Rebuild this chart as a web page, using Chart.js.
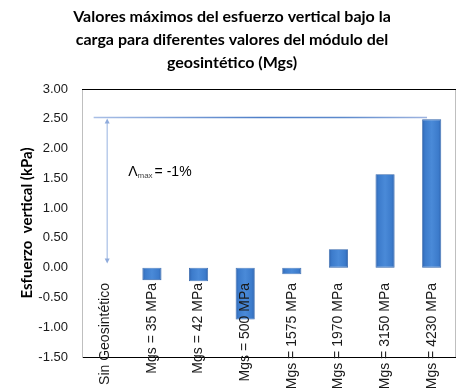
<!DOCTYPE html>
<html>
<head>
<meta charset="utf-8">
<script src="https://cdn.jsdelivr.net/npm/chart.js@4/dist/chart.umd.min.js"></script>
<style>
  html, body { margin: 0; padding: 0; background: #fff; }
  #wrap { width: 459px; height: 392px; }
</style>
</head>
<body>
<div id="wrap"><canvas id="c"></canvas></div>
<script>
// Categories: geosynthetic modulus cases
const categories = [
  'Sin Geosintético', 'Mgs = 35 MPa', 'Mgs = 42 MPa', 'Mgs = 500 MPa',
  'Mgs = 1575 MPa', 'Mgs = 1970 MPa', 'Mgs = 3150 MPa', 'Mgs = 4230 MPa'
];
// Maximum vertical stress under the load (kPa)
const stressValues = [0.00, -0.21, -0.23, -0.87, -0.11, 0.31, 1.57, 2.49];
// Y axis range and step
const yTicks = { min: -1.5, max: 3.0, step: 0.5 };
// Reference level and the arrow span (kPa), category positions for the guide
const refLevel = 2.52;
const refLineFrom = -0.25;
const refLineTo = 6.9;
const arrowAt = 0.04;
const arrowBottom = 0.07;
// Annotation
const noteValue = 1.63;
const noteAt = 0.49;

const BAR_FRACTION = 0.41;

// Horizontal bevel-like gradient for each bar
function barFill(ctx) {
  const chart = ctx.chart;
  const xs = chart.scales && chart.scales.x;
  const flat = '#3c7bcb';
  if (!xs || ctx.dataIndex === undefined) return flat;
  const cx = xs.getPixelForValue(ctx.dataIndex);
  const w = (xs.width / categories.length) * BAR_FRACTION;
  if (!Number.isFinite(cx) || !Number.isFinite(w) || w <= 0) return flat;
  const g = chart.ctx.createLinearGradient(cx - w / 2, 0, cx + w / 2, 0);
  g.addColorStop(0, '#2e64b0');
  g.addColorStop(0.15, '#3c7bcb');
  g.addColorStop(0.5, '#4a8ad8');
  g.addColorStop(0.85, '#3c7bcb');
  g.addColorStop(1, '#2e64b0');
  return g;
}

// Plot frame, reference line, double arrow and note
const overlay = {
  id: 'overlay',
  beforeDatasetsDraw(chart) {
    const { ctx, chartArea: a } = chart;
    ctx.save();
    ctx.lineWidth = 1;
    ctx.strokeStyle = '#bfbfbf';
    ctx.beginPath();
    ctx.moveTo(a.right + 0.5, a.top);
    ctx.lineTo(a.right + 0.5, a.bottom);
    ctx.stroke();
    ctx.strokeStyle = '#000';
    ctx.beginPath();
    ctx.moveTo(a.left, a.top + 0.5);
    ctx.lineTo(a.right + 1, a.top + 0.5);
    ctx.stroke();
    ctx.restore();
  },
  afterDatasetsDraw(chart) {
    const { ctx } = chart;
    const xs = chart.scales.x, ys = chart.scales.y;
    ctx.save();
    // reference level
    const yRef = ys.getPixelForValue(refLevel);
    const x0 = xs.getPixelForValue(refLineFrom);
    const x1 = xs.getPixelForValue(refLineTo);
    const g = ctx.createLinearGradient(x0, 0, x1, 0);
    g.addColorStop(0, '#a9bfe6');
    g.addColorStop(0.5, '#4f7fc8');
    g.addColorStop(0.75, '#5d8acc');
    g.addColorStop(1, '#9fb4e0');
    ctx.strokeStyle = g;
    ctx.lineWidth = 1.5;
    ctx.beginPath();
    ctx.moveTo(x0, yRef);
    ctx.lineTo(x1, yRef);
    ctx.stroke();
    // double-headed arrow
    const xa = xs.getPixelForValue(arrowAt);
    const yb = ys.getPixelForValue(arrowBottom);
    const yt = yRef + 1;
    ctx.strokeStyle = '#a8bfe6';
    ctx.fillStyle = '#8fabdc';
    ctx.lineWidth = 1.2;
    ctx.beginPath();
    ctx.moveTo(xa, yt + 4);
    ctx.lineTo(xa, yb - 4);
    ctx.stroke();
    ctx.beginPath();
    ctx.moveTo(xa, yt);
    ctx.lineTo(xa - 2.5, yt + 5);
    ctx.lineTo(xa + 2.5, yt + 5);
    ctx.closePath();
    ctx.fill();
    ctx.beginPath();
    ctx.moveTo(xa, yb);
    ctx.lineTo(xa - 2.5, yb - 5);
    ctx.lineTo(xa + 2.5, yb - 5);
    ctx.closePath();
    ctx.fill();
    // note
    const nx = xs.getPixelForValue(noteAt);
    const ny = ys.getPixelForValue(noteValue);
    ctx.fillStyle = '#000';
    ctx.textBaseline = 'alphabetic';
    ctx.textAlign = 'left';
    ctx.font = '300 14px "Liberation Sans", Arial, sans-serif';
    ctx.fillText('\u039B', nx, ny + 5);
    let w = ctx.measureText('\u039B').width;
    ctx.font = '8px "Liberation Sans", Arial, sans-serif';
    ctx.fillStyle = '#444';
    ctx.fillText('max', nx + w, ny + 7);
    w += ctx.measureText('max').width + 2;
    ctx.font = '14px "Liberation Sans", Arial, sans-serif';
    ctx.fillStyle = '#000';
    ctx.fillText('= -1%', nx + w, ny + 5);
    ctx.restore();
  }
};

new Chart(document.getElementById('c'), {
  type: 'bar',
  data: {
    labels: categories,
    datasets: [{
      data: stressValues,
      backgroundColor: barFill,
      borderColor: '#2f62a8',
      borderWidth: 0.8,
      borderSkipped: false,
      barPercentage: BAR_FRACTION,
      categoryPercentage: 1.0
    }]
  },
  options: {
    responsive: true,
    maintainAspectRatio: false,
    animation: false,
    layout: { padding: { left: 9, right: 4, top: 0, bottom: 0 } },
    plugins: {
      legend: { display: false },
      tooltip: { enabled: false },
      title: {
        display: true,
        text: [
          'Valores máximos del esfuerzo vertical bajo la',
          'carga para diferentes valores del módulo del',
          'geosintético (Mgs)'
        ],
        color: '#000',
        font: { family: 'Lato, "Liberation Sans", sans-serif', size: 16, weight: 'bold', lineHeight: '23px' },
        padding: { top: 5, bottom: 15 }
      }
    },
    scales: {
      x: {
        grid: { display: false, drawTicks: false },
        border: { display: true, color: '#000', width: 1 },
        ticks: {
          z: 1,
          autoSkip: false,
          minRotation: 90,
          maxRotation: 90,
          padding: -74,
          color: '#1a1a1a',
          font: { family: '"Liberation Sans", Arial, sans-serif', size: 14 }
        },
        afterFit(scale) {
          scale.height = 35;
          scale.paddingLeft = 0;
          scale.paddingRight = 0;
          // category labels sit just under the zero line, so let them draw above the axis box
          scale._computeLabelArea = () => undefined;
        }
      },
      y: {
        min: yTicks.min,
        max: yTicks.max,
        grid: { display: false, drawTicks: false },
        border: { display: true, color: '#bfbfbf', width: 1 },
        ticks: {
          stepSize: yTicks.step,
          padding: 14,
          color: '#1a1a1a',
          font: { family: '"Liberation Sans", Arial, sans-serif', size: 13 },
          callback: (v) => Number(v).toFixed(2)
        },
        title: {
          display: true,
          text: 'Esfuerzo  vertical (kPa)',
          color: '#000',
          font: { family: 'Lato, "Liberation Sans", sans-serif', size: 15, weight: 'bold' },
          padding: { top: 9, bottom: 0 }
        },
        afterFit(scale) {
          scale.width = 73;
        }
      }
    }
  },
  plugins: [overlay]
});
</script>
</body>
</html>
